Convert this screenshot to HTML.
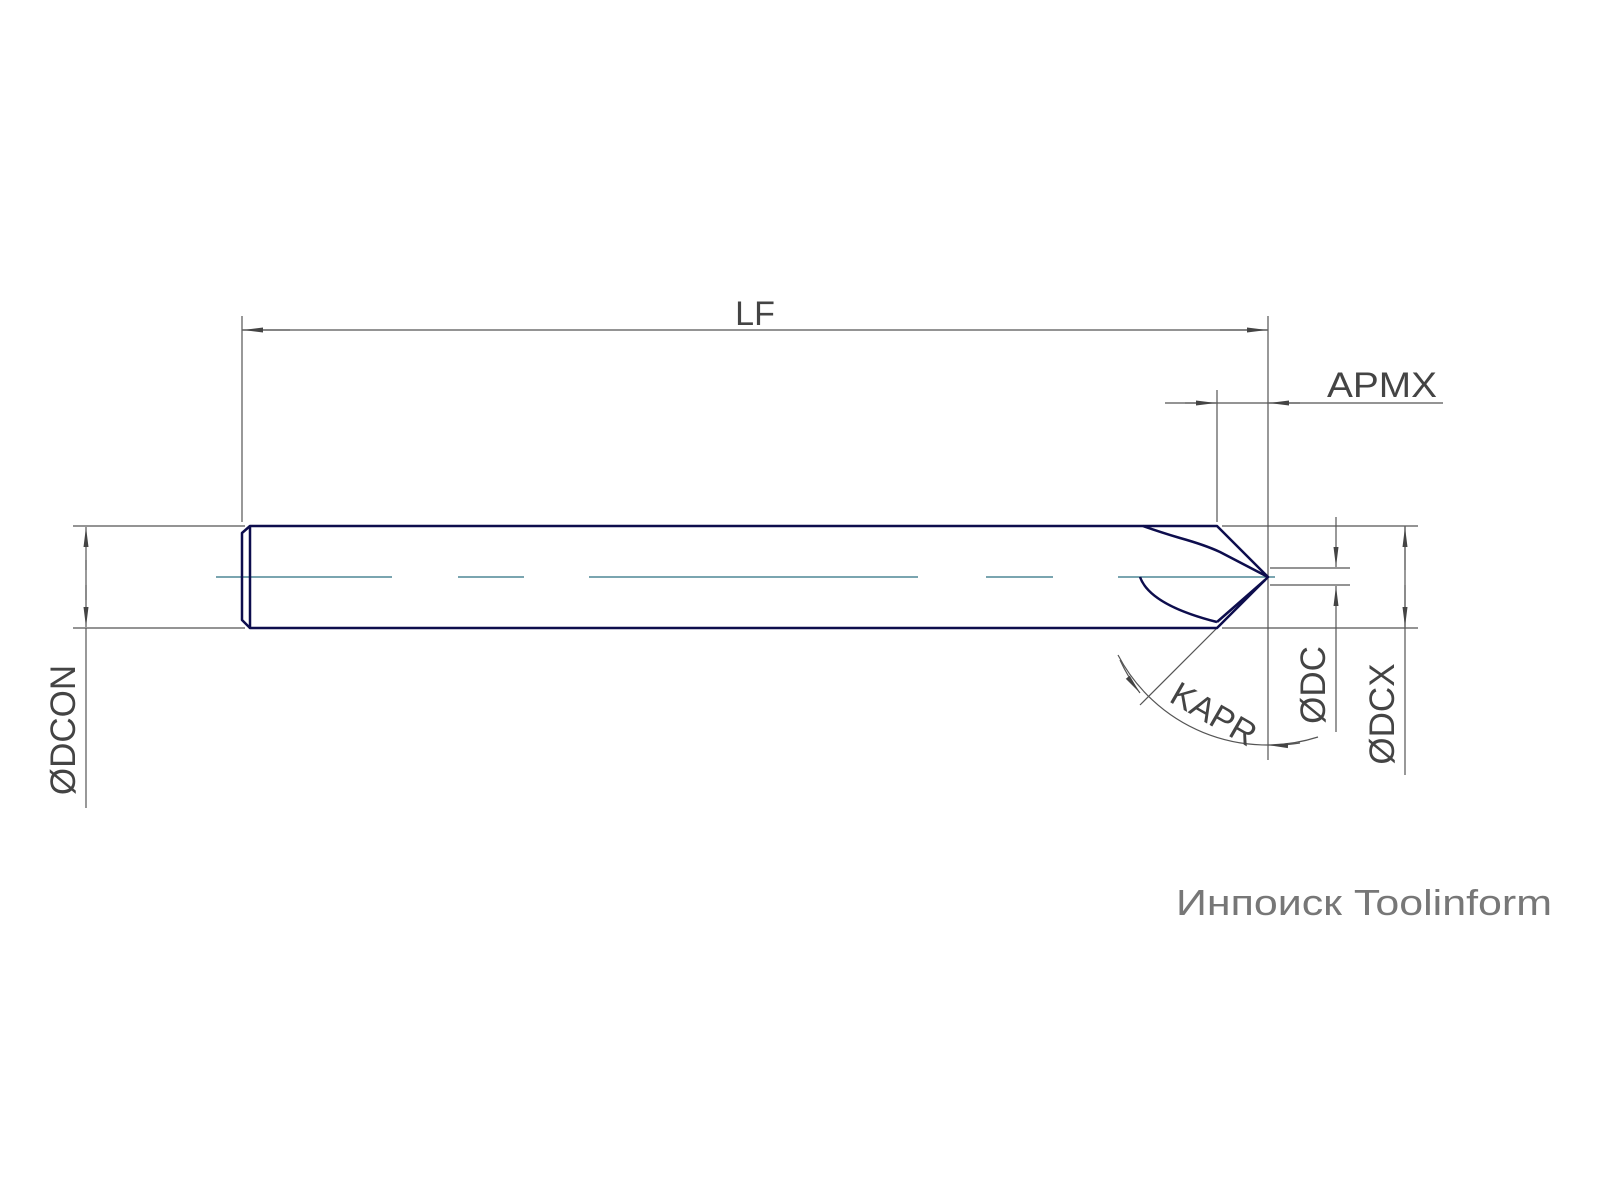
<!DOCTYPE html>
<html><head><meta charset="utf-8"><style>
html,body{margin:0;padding:0;background:#fff}
svg{display:block}
text{font-family:"Liberation Sans",sans-serif;fill:#444}
</style></head><body>
<svg width="1600" height="1200" viewBox="0 0 1600 1200">
<defs>
<marker id="ar" viewBox="0 0 20 8" refX="20" refY="4" markerWidth="20" markerHeight="8" markerUnits="userSpaceOnUse" orient="auto"><path d="M0,1.5 L20,4 L0,6.5 Z" fill="#444"/></marker>
</defs>
<g stroke="#555" stroke-width="1.2" fill="none">
<line x1="242" y1="316" x2="242" y2="522"/>
<line x1="1268" y1="316" x2="1268" y2="760"/>
<line x1="242" y1="330" x2="1268" y2="330"/>
<line x1="290" y1="330" x2="243" y2="330" marker-end="url(#ar)"/>
<line x1="1220" y1="330" x2="1267" y2="330" marker-end="url(#ar)"/>
<line x1="1217" y1="390" x2="1217" y2="522"/>
<line x1="1165" y1="403" x2="1443" y2="403"/>
<line x1="1185" y1="403" x2="1216" y2="403" marker-end="url(#ar)"/>
<line x1="1300" y1="403" x2="1269" y2="403" marker-end="url(#ar)"/>
<line x1="73" y1="526" x2="245" y2="526"/>
<line x1="73" y1="628" x2="245" y2="628"/>
<line x1="86" y1="628" x2="86" y2="808"/>
<line x1="86" y1="570" x2="86" y2="527" marker-end="url(#ar)"/>
<line x1="86" y1="585" x2="86" y2="627" marker-end="url(#ar)"/>
<line x1="86" y1="560" x2="86" y2="600"/>
<line x1="1222" y1="526" x2="1418" y2="526"/>
<line x1="1222" y1="628" x2="1418" y2="628"/>
<line x1="1405" y1="526" x2="1405" y2="775"/>
<line x1="1405" y1="570" x2="1405" y2="527" marker-end="url(#ar)"/>
<line x1="1405" y1="585" x2="1405" y2="627" marker-end="url(#ar)"/>
<line x1="1270" y1="568" x2="1350" y2="568"/>
<line x1="1270" y1="585" x2="1350" y2="585"/>
<line x1="1336" y1="517" x2="1336" y2="567" marker-end="url(#ar)"/>
<line x1="1336" y1="732" x2="1336" y2="586" marker-end="url(#ar)"/>
<line x1="1217" y1="628" x2="1140" y2="705"/>
<path d="M1118,655 A168,168 0 0 0 1318,737"/>
<path d="M1120,660 A168,168 0 0 0 1140,693" marker-end="url(#ar)"/>
<path d="M1300,743 A168,168 0 0 1 1268,745" marker-end="url(#ar)"/>
</g>
<g stroke="#2a6f80" stroke-width="1.2">
<line x1="216" y1="577" x2="392" y2="577"/>
<line x1="458" y1="577" x2="524" y2="577"/>
<line x1="589" y1="577" x2="918" y2="577"/>
<line x1="986" y1="577" x2="1053" y2="577"/>
<line x1="1118" y1="577" x2="1275" y2="577"/>
</g>
<g stroke="#0d0d4d" stroke-width="2.5" fill="none" stroke-linejoin="round">
<path d="M250,526 L1217,526 L1268,577 L1217,628 L250,628 Z"/>
<path d="M250,526 L242,533 L242,620 L250,628"/>
<path d="M1217,622 L1265,580"/>
<path d="M1143,526 Q1160,532 1180,538 Q1205,545 1220,552 L1268,577"/>
<path d="M1140,577 Q1150,605 1217,622"/>
</g>
<text x="755" y="325" font-size="34" text-anchor="middle">LF</text>
<text x="1327" y="397" font-size="35" textLength="110" lengthAdjust="spacingAndGlyphs">APMX</text>
<text transform="translate(75,730) rotate(-90)" font-size="35" text-anchor="middle">ØDCON</text>
<text transform="translate(1325,685) rotate(-90)" font-size="35" text-anchor="middle">ØDC</text>
<text transform="translate(1394,714) rotate(-90)" font-size="35" text-anchor="middle">ØDCX</text>
<text transform="translate(1208,724) rotate(30)" font-size="34" text-anchor="middle">KAPR</text>
<text x="1176" y="915" font-size="36" textLength="376" lengthAdjust="spacingAndGlyphs" style="fill:#777">Инпоиск Toolinform</text>
</svg>
</body></html>
